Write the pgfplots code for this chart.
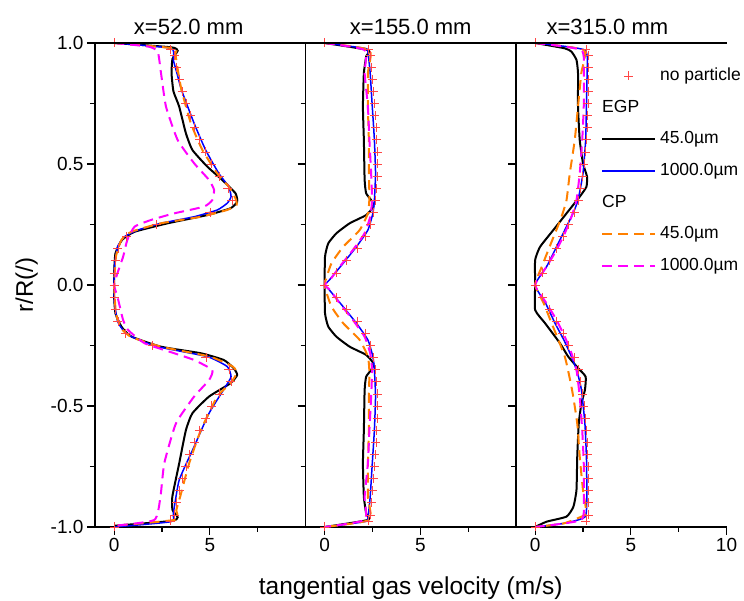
\documentclass[border=0pt]{standalone}
\usepackage{pgfplots}
\pgfplotsset{compat=1.18}
\usepackage{fontspec}
\setmainfont{Liberation Sans}
\definecolor{cOrange}{RGB}{255,128,0}
\definecolor{cMag}{RGB}{255,0,255}
\definecolor{cBlue}{RGB}{0,0,255}
\definecolor{cRed}{RGB}{255,70,70}
\pgfplotsset{
  panel/.style={
    scale only axis, width=210.5pt, height=484pt,
    xmin=-1, xmax=10, ymin=-1, ymax=1,
    anchor=south west,
    axis x line*=bottom, axis y line*=left,
    axis line style={line width=1.1pt},
    tick align=outside,
    major tick length=8pt, minor tick length=5pt,
    every tick/.style={line width=1.1pt, black},
    ytick={-1,-0.5,0,0.5,1},
    minor ytick={-0.75,-0.25,0.25,0.75},
    xtick={0,5}, xticklabels={0,5},
    minor xtick={2.5,7.5},
    yticklabels={},
    tick label style={font=\fontsize{19}{19}\selectfont},
    clip=false,
    after end axis/.code={\draw[line width=1.1pt] (rel axis cs:0,1) -- (rel axis cs:1,1);},
    title style={font=\fontsize{22}{22}\selectfont, anchor=base, inner sep=0pt, yshift=2pt},
    legend image code/.code={\draw[#1] (0pt,0pt) -- (53pt,0pt);},
  },
  nop/.style={only marks, mark=+, mark size=4.5pt, color=cRed, mark options={line width=0.6pt},
    legend image code/.code={\draw[mark repeat=2,mark phase=2,##1] plot coordinates {(0pt,0pt) (26.5pt,0pt) (53pt,0pt)};}},
  egpA/.style={color=black, line width=2pt, smooth, tension=0.3, no marks},
  egpB/.style={color=cBlue, line width=1.5pt, smooth, tension=0.3, no marks},
  cpA/.style={color=cOrange, line width=2pt, dash pattern=on 10pt off 6pt, smooth, tension=0.3, no marks},
  cpB/.style={color=cMag, line width=2pt, dash pattern=on 10pt off 6pt, smooth, tension=0.3, no marks},
}
\begin{document}
\begin{tikzpicture}
\useasboundingbox (0,0) rectangle (744pt,601pt);
% ---------------- panel 1
\begin{axis}[panel, at={(95pt,74pt)},
  yticklabels={-1.0,-0.5,0.0,0.5,1.0},
  title={x=52.0 mm}, title style={at={(rel axis cs:0.445,1)}},
  ylabel={r/R(/)},
  ylabel style={font=\fontsize{24}{24}\selectfont, at={([xshift=-62pt]rel axis cs:0,0.5)}, anchor=base, inner sep=0pt},
]
\addplot[nop] coordinates {(0,1) (2.95,0.975) (3.15,0.95) (3.25,0.9) (3.4,0.85) (3.55,0.8) (3.75,0.75) (3.98,0.7) (4.2,0.65) (4.45,0.6) (4.75,0.55) (5.1,0.5) (5.5,0.45) (5.95,0.4) (6.15,0.35) (5.0,0.3) (2.2,0.25) (0.65,0.2) (0.2,0.15) (0.05,0.1) (0,0.05) (0,0) (0,-0.05) (0.05,-0.1) (0.2,-0.15) (0.6,-0.2) (2.0,-0.25) (4.8,-0.3) (6.0,-0.35) (6.1,-0.4) (5.5,-0.45) (5.1,-0.5) (4.8,-0.55) (4.45,-0.6) (4.2,-0.65) (3.95,-0.7) (3.75,-0.75) (3.55,-0.8) (3.4,-0.85) (3.25,-0.9) (3.15,-0.95) (2.95,-0.975) (0,-1)};
\addplot[egpA] coordinates {(0,1) (3.0,0.982) (3.32,0.968) (3.05,0.935) (3.0,0.875) (3.1,0.8) (3.4,0.737) (3.75,0.627) (4.09,0.558) (4.87,0.489) (5.65,0.434) (6.34,0.379) (6.43,0.344) (6.08,0.317) (4.87,0.289) (2.8,0.255) (1.07,0.22) (0.41,0.186) (0.07,0.131) (0,0.05) (0,-0.05) (0.07,-0.117) (0.38,-0.172) (0.9,-0.213) (2.45,-0.255) (4.53,-0.282) (5.73,-0.31) (6.25,-0.344) (6.43,-0.372) (6.08,-0.406) (4.96,-0.461) (4.09,-0.53) (3.75,-0.6) (3.4,-0.737) (3.04,-0.875) (3.05,-0.93) (3.32,-0.96) (3.0,-0.975) (0,-0.995)};
\addplot[egpB] coordinates {(0,1) (2.97,0.978) (3.09,0.93) (3.3,0.87) (3.52,0.806) (4.18,0.668) (4.78,0.558) (5.47,0.461) (5.99,0.406) (6.11,0.365) (5.91,0.338) (5.39,0.31) (4.18,0.282) (2.45,0.255) (1.24,0.227) (0.55,0.2) (0.18,0.158) (0.02,0.076) (0,0) (0.02,-0.076) (0.18,-0.15) (0.5,-0.19) (0.95,-0.215) (2.28,-0.255) (4.87,-0.296) (5.91,-0.337) (6.11,-0.379) (5.82,-0.42) (4.96,-0.53) (4.18,-0.668) (3.4,-0.806) (3.09,-0.944) (2.97,-0.978) (0,-1)};
\addplot[cpA] coordinates {(0,1) (3.14,0.978) (3.2,0.958) (3.3,0.902) (3.52,0.806) (4.01,0.668) (4.61,0.558) (5.39,0.461) (5.99,0.406) (6.34,0.358) (6.4,0.331) (5.9,0.31) (4.53,0.282) (2.45,0.255) (0.9,0.22) (0.38,0.186) (0.1,0.12) (0,0) (0.1,-0.12) (0.38,-0.18) (0.9,-0.215) (2.45,-0.255) (5.0,-0.296) (6.2,-0.337) (6.4,-0.365) (6.08,-0.406) (5.39,-0.461) (4.53,-0.6) (3.92,-0.737) (3.45,-0.875) (3.25,-0.93) (3.2,-0.97) (0,-0.995)};
\addplot[cpB] coordinates {(0,1) (1.8,0.985) (2.28,0.964) (2.45,0.875) (2.71,0.737) (3.32,0.599) (4.18,0.503) (4.96,0.434) (5.22,0.393) (5.13,0.351) (4.7,0.324) (3.14,0.296) (1.94,0.269) (1.07,0.241) (0.69,0.186) (0.47,0.117) (0.17,0.048) (0,0) (0.17,-0.048) (0.3,-0.09) (0.47,-0.145) (0.73,-0.186) (1.6,-0.241) (3.14,-0.282) (4.18,-0.31) (5.13,-0.351) (4.96,-0.393) (4.18,-0.461) (3.23,-0.572) (2.62,-0.737) (2.42,-0.875) (2.1,-0.971) (0,-0.995)};
\end{axis}
% ---------------- panel 2
\begin{axis}[panel, at={(305.5pt,74pt)},
  title={x=155.0 mm}, title style={at={(rel axis cs:0.5,1)}},
  xlabel={tangential gas velocity (m/s)},
  xlabel style={font=\fontsize{24.5}{24.5}\selectfont, at={([yshift=-68pt]rel axis cs:0.5,0)}, anchor=base, inner sep=0pt},
]
\addplot[nop] coordinates {(0,1) (2.3,0.975) (2.4,0.95) (2.45,0.9) (2.5,0.85) (2.55,0.8) (2.6,0.75) (2.63,0.7) (2.68,0.65) (2.72,0.6) (2.74,0.55) (2.75,0.5) (2.75,0.45) (2.72,0.4) (2.66,0.35) (2.56,0.3) (2.4,0.25) (2.15,0.2) (1.7,0.15) (1.15,0.1) (0.6,0.05) (0,0) (0.6,-0.05) (1.15,-0.1) (1.7,-0.15) (2.15,-0.2) (2.4,-0.25) (2.56,-0.3) (2.66,-0.35) (2.72,-0.4) (2.75,-0.45) (2.75,-0.5) (2.74,-0.55) (2.72,-0.6) (2.68,-0.65) (2.63,-0.7) (2.6,-0.75) (2.55,-0.8) (2.5,-0.85) (2.45,-0.9) (2.4,-0.95) (2.3,-0.975) (0,-1)};
\addplot[egpA] coordinates {(0,1) (2.26,0.971) (2.17,0.944) (2.05,0.875) (2.0,0.737) (2.05,0.599) (2.09,0.434) (2.17,0.379) (2.43,0.351) (2.55,0.324) (2.17,0.289) (1.31,0.255) (0.62,0.214) (0.19,0.172) (0.02,0.117) (0,0) (0.02,-0.117) (0.19,-0.172) (0.62,-0.214) (1.31,-0.255) (2.17,-0.289) (2.55,-0.324) (2.43,-0.351) (2.17,-0.379) (2.09,-0.434) (2.05,-0.599) (2.0,-0.737) (2.05,-0.875) (2.17,-0.944) (2.26,-0.971) (0,-1)};
\addplot[egpB] coordinates {(0,1) (2.09,0.978) (2.26,0.964) (2.38,0.875) (2.49,0.737) (2.6,0.599) (2.66,0.461) (2.6,0.351) (2.52,0.296) (2.26,0.227) (1.66,0.158) (0.97,0.09) (0.24,0.02) (0,0) (0.24,-0.02) (0.97,-0.09) (1.66,-0.158) (2.26,-0.227) (2.52,-0.296) (2.6,-0.351) (2.66,-0.461) (2.6,-0.599) (2.49,-0.737) (2.38,-0.875) (2.26,-0.964) (2.09,-0.978) (0,-1)};
\addplot[cpA] coordinates {(0,1) (2.34,0.971) (2.26,0.875) (2.26,0.737) (2.31,0.599) (2.31,0.461) (2.34,0.36) (2.26,0.296) (1.83,0.227) (0.97,0.158) (0.36,0.09) (0.05,0.02) (0,0) (0.05,-0.02) (0.36,-0.09) (0.97,-0.158) (1.83,-0.227) (2.26,-0.296) (2.34,-0.36) (2.31,-0.461) (2.31,-0.599) (2.26,-0.737) (2.26,-0.875) (2.34,-0.971) (0,-1)};
\addplot[cpB] coordinates {(0,1) (2.09,0.971) (2.09,0.875) (2.26,0.737) (2.34,0.599) (2.43,0.461) (2.48,0.351) (2.38,0.282) (2.09,0.214) (1.48,0.145) (0.79,0.076) (0.27,0.02) (0,0) (0.27,-0.02) (0.79,-0.076) (1.48,-0.145) (2.09,-0.214) (2.38,-0.282) (2.48,-0.351) (2.43,-0.461) (2.34,-0.599) (2.26,-0.737) (2.09,-0.875) (2.09,-0.971) (0,-1)};
\end{axis}
% ---------------- panel 3
\begin{axis}[panel, at={(516pt,74pt)},
  xtick={0,5,10}, xticklabels={0,5,10},
  title={x=315.0 mm}, title style={at={(rel axis cs:0.434,1)}},
  legend cell align=left,
  legend style={at={(rel axis cs:0.403,0.949)}, anchor=north west, draw=none, fill=none,
    inner sep=0pt, font=\fontsize{17.5}{17.5}\selectfont, row sep=15.7pt, column sep=4pt,
    nodes={inner sep=0pt, text height=12.5pt, text depth=3.5pt}},
]
\addplot[nop] coordinates {(0,1) (2.65,0.975) (2.78,0.95) (2.8,0.9) (2.8,0.85) (2.78,0.8) (2.76,0.75) (2.74,0.7) (2.72,0.65) (2.68,0.6) (2.62,0.55) (2.55,0.5) (2.48,0.45) (2.38,0.4) (2.25,0.35) (2.05,0.3) (1.75,0.25) (1.45,0.2) (1.1,0.15) (0.75,0.1) (0.4,0.05) (0,0) (0.4,-0.05) (0.75,-0.1) (1.1,-0.15) (1.45,-0.2) (1.75,-0.25) (2.05,-0.3) (2.25,-0.35) (2.38,-0.4) (2.48,-0.45) (2.55,-0.5) (2.62,-0.55) (2.68,-0.6) (2.72,-0.65) (2.74,-0.7) (2.76,-0.75) (2.78,-0.8) (2.8,-0.85) (2.8,-0.9) (2.78,-0.95) (2.65,-0.975) (0,-1)};
\addlegendentry{no particle}
\addlegendimage{legend image code/.code={\node[anchor=west, inner sep=0pt, font=\fontsize{17.5}{17.5}\selectfont] at (0pt,0pt) {EGP};}}
\addlegendentry{}
\addplot[egpA] coordinates {(0,1) (1.55,0.978) (1.9,0.964) (2.16,0.93) (2.24,0.875) (2.24,0.737) (2.33,0.599) (2.5,0.503) (2.71,0.448) (2.68,0.406) (2.33,0.365) (1.64,0.296) (0.95,0.227) (0.26,0.158) (0,0.103) (0,0) (0,-0.103) (0.52,-0.158) (1.3,-0.241) (1.73,-0.296) (2.25,-0.344) (2.64,-0.379) (2.6,-0.434) (2.42,-0.489) (2.28,-0.572) (2.2,-0.71) (2.16,-0.847) (2.0,-0.916) (1.64,-0.957) (0.6,-0.978) (0,-1)};
\addlegendentry{45.0µm}
\addplot[egpB] coordinates {(0,1) (2.59,0.971) (2.71,0.875) (2.68,0.737) (2.64,0.599) (2.5,0.461) (2.24,0.351) (1.98,0.296) (1.55,0.227) (1.12,0.158) (0.6,0.076) (0,0) (0.55,-0.076) (1.04,-0.158) (1.5,-0.227) (1.9,-0.296) (2.2,-0.36) (2.42,-0.434) (2.6,-0.572) (2.68,-0.71) (2.7,-0.847) (2.62,-0.957) (1.5,-0.985) (0,-1)};
\addlegendentry{1000.0µm}
\addlegendimage{legend image code/.code={\node[anchor=west, inner sep=0pt, font=\fontsize{17.5}{17.5}\selectfont] at (0pt,0pt) {CP};}}
\addlegendentry{}
\addplot[cpA] coordinates {(0,1) (2.54,0.971) (2.41,0.875) (2.24,0.737) (2.07,0.599) (1.81,0.461) (1.64,0.351) (1.38,0.282) (1.04,0.214) (0.69,0.145) (0.35,0.076) (0,0) (0.45,-0.076) (0.86,-0.158) (1.55,-0.296) (1.93,-0.434) (2.2,-0.572) (2.33,-0.71) (2.5,-0.847) (2.64,-0.916) (2.6,-0.95) (1.5,-0.985) (0,-1)};
\addlegendentry{45.0µm}
\addplot[cpB] coordinates {(0,1) (2.41,0.971) (2.54,0.875) (2.54,0.737) (2.46,0.599) (2.33,0.461) (2.16,0.351) (1.9,0.282) (1.55,0.214) (1.12,0.145) (0.6,0.076) (0,0) (0.6,-0.076) (1.12,-0.145) (1.55,-0.214) (1.9,-0.282) (2.16,-0.351) (2.33,-0.461) (2.46,-0.599) (2.54,-0.737) (2.54,-0.875) (2.41,-0.971) (0,-1)};
\addlegendentry{1000.0µm}
\end{axis}
\end{tikzpicture}
\end{document}
